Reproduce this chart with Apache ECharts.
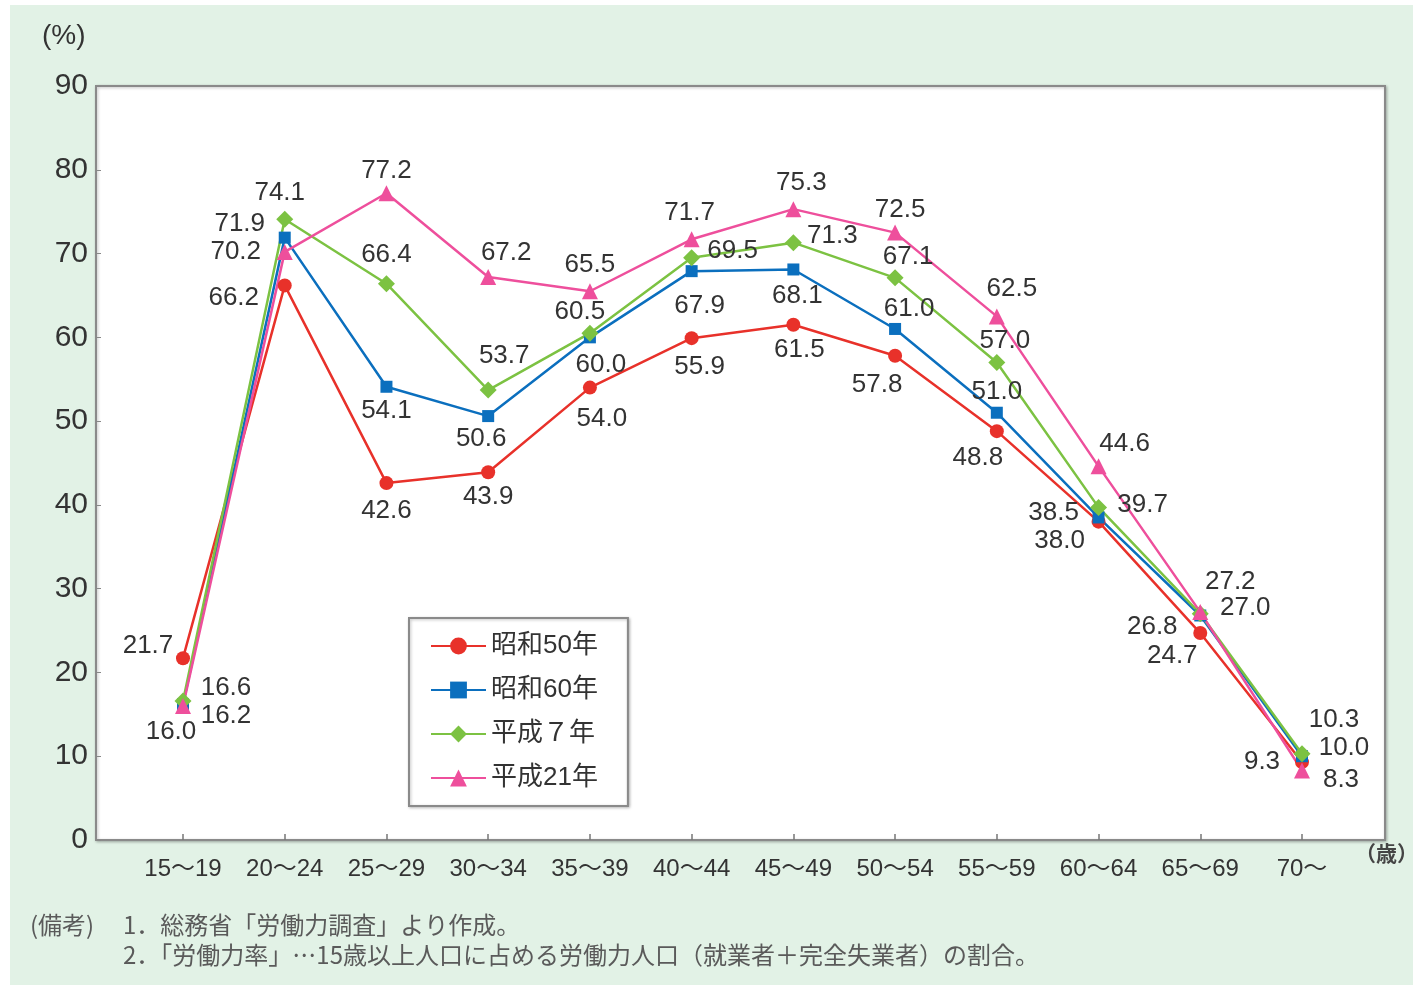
<!DOCTYPE html>
<html>
<head>
<meta charset="utf-8">
<script src="https://cdn.jsdelivr.net/npm/echarts@6/dist/echarts.min.js"></script>
<style>
  html, body { margin: 0; background: #fff; }
  #chart { position: absolute; left: 10px; top: 5px; width: 1403px; height: 980px; }
</style>
</head>
<body>
<div id="chart"></div>
<script>
  // 年齢階級
  var categories = ['15～19', '20～24', '25～29', '30～34', '35～39', '40～44', '45～49', '50～54', '55～59', '60～64', '65～69', '70～'];
  // 労働力率 (%)
  var s50 = [21.7, 66.2, 42.6, 43.9, 54.0, 59.9, 61.5, 57.8, 48.8, 38.0, 24.7, 9.3];
  var s60 = [16.2, 71.9, 54.1, 50.6, 60.0, 67.9, 68.1, 61.0, 51.0, 38.5, 26.8, 10.0];
  var h7 = [16.6, 74.1, 66.4, 53.7, 60.5, 69.5, 71.3, 67.1, 57.0, 39.7, 27.0, 10.3];
  var h21 = [16.0, 70.2, 77.2, 67.2, 65.5, 71.7, 75.3, 72.5, 62.5, 44.6, 27.2, 8.3];
  var yTicks = [0, 90, 10];

  // 元図では 40～44 の昭和50年の点は 59.9 の位置だが、ラベルは「55.9」と印刷されている
  var printedOverride = { '昭和50年': { 5: '55.9' } };

  // ラベルの位置(点からのずれ, px)
  var off50 = [[-35,-12],[-51,12],[0,28],[0,25],[12,31],[8,29],[6,25],[-18,29],[-19,27],[-39,19],[-28,23],[-40,0]];
  var off60 = [[43,12],[-45,-14],[0,24],[-7,23],[11,27],[8,35],[4,26],[14,-20],[0,-21],[-45,-5],[-48,11],[42,-8]];
  var offH7 = [[43,-13],[-5,-26],[0,-29],[16,-34],[-10,-21],[41,-7],[39,-7],[13,-21],[8,-22],[44,-3],[45,-6],[32,-34]];
  var offH21 = [[-12,26],[-49,0],[0,-22],[18,-24],[0,-26],[-2,-26],[8,-26],[5,-23],[15,-28],[26,-23],[30,-30],[39,9]];

  var textColor = '#333';
  var numFont = '"Liberation Sans", Arial, "Noto Sans CJK JP", sans-serif';
  var jpFont = '"Noto Sans CJK JP", sans-serif';

  function makeSeries(name, values, color, symbol, size, offsets) {
    return {
      name: name,
      type: 'line',
      xAxisIndex: 0,
      yAxisIndex: 0,
      symbol: symbol,
      symbolSize: size,
      lineStyle: { color: color, width: 2.5 },
      itemStyle: { color: color },
      label: {
        show: true,
        position: 'inside',
        color: textColor,
        fontSize: 26,
        fontFamily: numFont,
        formatter: function (p) {
          var o = printedOverride[name];
          if (o && o[p.dataIndex] != null) return o[p.dataIndex];
          return p.value.toFixed(1);
        }
      },
      data: values.map(function (v, i) {
        return { value: v, label: { offset: offsets[i] } };
      })
    };
  }

  var myChart = echarts.init(document.getElementById('chart'));
  var option = {
    animation: false,
    backgroundColor: '#e2f2e6',
    textStyle: { fontFamily: numFont },
    grid: [
      { left: 173, right: 111, top: 81, bottom: 145 },   // データ用
      {                                                   // 枠
        left: 86, right: 28, top: 81, bottom: 145,
        show: true, backgroundColor: '#fff',
        borderColor: '#8a8a8a', borderWidth: 2,
        shadowColor: 'rgba(0,0,0,0.25)', shadowBlur: 3, shadowOffsetX: 1, shadowOffsetY: 1
      }
    ],
    xAxis: [
      {
        gridIndex: 0, type: 'category', data: categories, boundaryGap: false,
        axisLine: { show: false },
        axisTick: { show: true, inside: true, length: 6, lineStyle: { color: '#777', width: 1.5 } },
        axisLabel: { fontSize: 24, color: textColor, margin: 17 },
        splitLine: { show: false }
      },
      { gridIndex: 1, type: 'value', min: 0, max: 1, show: false }
    ],
    yAxis: [
      { gridIndex: 0, type: 'value', min: yTicks[0], max: yTicks[1], show: false },
      {
        gridIndex: 1, type: 'value', min: yTicks[0], max: yTicks[1], interval: yTicks[2],
        axisLine: { show: true, lineStyle: { color: '#8a8a8a', width: 2 } },
        axisTick: { show: true, inside: true, length: 5, lineStyle: { color: '#888' } },
        axisLabel: { fontSize: 30, color: textColor, margin: 8 },
        splitLine: { show: false }
      }
    ],
    legend: {
      orient: 'vertical',
      left: 399, top: 613,
      padding: [15, 30, 15, 21],
      itemGap: 18,
      itemWidth: 55,
      itemHeight: 21,
      itemTextGap: 12,
      backgroundColor: '#fff',
      borderColor: '#8a8a8a',
      borderWidth: 2,
      borderRadius: 0,
      shadowColor: 'rgba(0,0,0,0.25)', shadowBlur: 3, shadowOffsetX: 1, shadowOffsetY: 1,
      textStyle: { fontSize: 26, color: textColor, fontFamily: numFont },
      data: ['昭和50年', '昭和60年', '平成７年', '平成21年']
    },
    graphic: [
      { type: 'text', left: 32, top: 17, style: { text: '(%)', fontSize: 28, fill: textColor, fontFamily: numFont } },
      { type: 'text', left: 1345, top: 838, style: { text: '（歳）', fontSize: 21, fill: '#444', fontWeight: 'bold', fontFamily: jpFont } },
      { type: 'text', left: 20, top: 908, style: { text: '(備考)', fontSize: 24, fill: '#5a5a5a', fontFamily: jpFont } },
      { type: 'text', left: 113, top: 908, style: { text: '1．総務省「労働力調査」より作成。', fontSize: 24, fill: '#5a5a5a', fontFamily: jpFont } },
      { type: 'text', left: 113, top: 938, style: { text: '2．「労働力率」…15歳以上人口に占める労働力人口（就業者＋完全失業者）の割合。', fontSize: 24, fill: '#5a5a5a', fontFamily: jpFont } }
    ],
    series: [
      makeSeries('昭和50年', s50, '#e8312a', 'circle', 14, off50),
      makeSeries('昭和60年', s60, '#0b6fbe', 'rect', 12, off60),
      makeSeries('平成７年', h7, '#7cc242', 'diamond', 17, offH7),
      makeSeries('平成21年', h21, '#ee4f9c', 'triangle', 16, offH21)
    ]
  };
  myChart.setOption(option);
</script>
</body>
</html>
